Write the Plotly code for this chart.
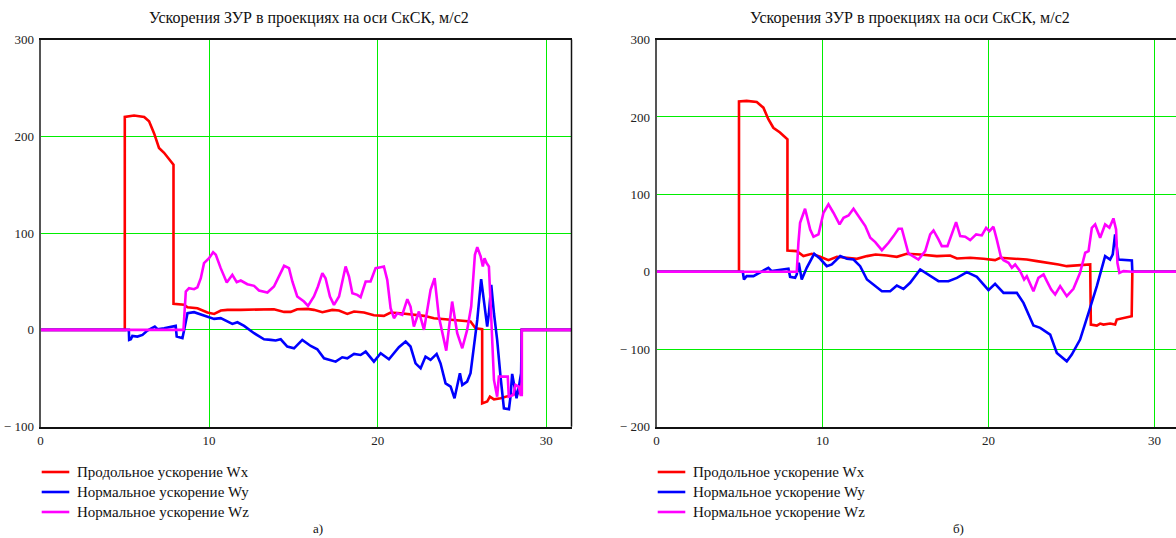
import plotly.graph_objects as go

W, H = 1176, 538

# ---- panel а): time, s and accelerations, m/s^2 ----
t_wx_a = [0, 5.0, 5.0, 5.55, 6.15, 6.44, 6.74, 7.03, 7.33, 7.63, 7.89, 7.89, 8.52, 8.72, 9.31, 9.9,
          10.3, 10.7, 11.09, 11.88, 13.06, 13.85, 14.45, 14.84, 15.23, 15.83, 16.22, 16.72, 17.31,
          17.7, 18.2, 18.6, 19.19, 19.78, 20.37, 20.77, 21.36, 21.95, 22.75, 23.34, 23.93, 24.52,
          25.12, 25.51, 25.81, 26.11, 26.2, 26.2, 26.5, 26.66, 26.9, 27.3, 27.88, 28.28, 28.55,
          28.55, 31.5]
wx_a = [0, 0, 220, 221.4, 220, 215.5, 203, 188, 183, 176.6, 170.7, 27, 26, 23.4, 22.4, 18,
        16.5, 20, 20.7, 20.7, 21.4, 21.4, 18.6, 18.6, 21.4, 21.7, 20.7, 18.3, 20.7,
        20, 16.5, 19, 18, 15.2, 14.5, 18, 17.2, 16.2, 14.5, 12, 11, 10.3,
        9.7, 8.6, 1.7, 0.7, 0.7, -75.9, -74, -69, -71.7, -70.7, -67.6, -65.5, -65,
        0, 0]

t_wy_a = [0, 5.24, 5.26, 5.36, 5.45, 5.75, 6.05, 6.34, 6.78, 6.94, 7.33, 7.92, 8.02, 8.08, 8.42,
          8.52, 8.72, 9.11, 9.51, 9.9, 10.3, 10.69, 11.09, 11.38, 11.68, 12.08, 12.67, 13.26,
          13.66, 13.95, 14.25, 14.64, 15.04, 15.53, 16.03, 16.42, 16.82, 17.21, 17.51, 17.9,
          18.2, 18.6, 18.99, 19.29, 19.78, 20.18, 20.67, 21.26, 21.66, 21.95, 22.25, 22.55,
          22.84, 23.14, 23.5, 23.73, 24.03, 24.33, 24.56, 24.88, 25.02, 25.31, 25.51, 25.71,
          25.91, 26.14, 26.3, 26.5, 26.6, 26.74, 26.9, 27.09, 27.29, 27.49, 27.79, 27.88,
          27.98, 28.08, 28.24, 28.38, 28.51, 28.55, 31.5]
wy_a = [0, 0, -10.3, -9.7, -6.2, -6.9, -5.2, -0.7, 3.4, 0.7, 1.7, 3.4, 4.1, -6.9, -8.6,
        0, 17.2, 18.3, 16.2, 13.8, 11.4, 12.1, 8.6, 6.2, 7.9, 4.1, -3.4, -9.7,
        -10.3, -11, -9.7, -17.2, -19, -10.3, -16.6, -20, -29.3, -31, -32.8, -28.3,
        -29.3, -24.8, -25.9, -22.4, -32.8, -24.1, -30.3, -17.9, -12.1, -17.2, -34.5, -39.7,
        -27.6, -31, -24.8, -34.5, -55.2, -58.6, -70.7, -44.8, -56.9, -53.4, -44.8, -17.2,
        10.3, 52.4, 31, 3.4, 17.2, 46.6, 17.2, -10.3, -48.3, -81, -82, -69,
        -45.5, -55, -70.7, -58.6, -44.8, 0, 0]

t_wz_a = [0, 8.48, 8.62, 8.81, 9.11, 9.31, 9.51, 9.7, 10.0, 10.24, 10.4, 10.69, 11.05, 11.38,
          11.64, 11.88, 12.27, 12.67, 12.96, 13.46, 13.85, 14.15, 14.45, 14.74, 14.94, 15.23,
          15.63, 15.87, 16.22, 16.46, 16.72, 16.91, 17.17, 17.41, 17.71, 18.1, 18.3, 18.5,
          18.79, 18.99, 19.29, 19.58, 19.88, 20.18, 20.37, 20.57, 20.77, 20.97, 21.16, 21.46,
          21.76, 21.95, 22.15, 22.45, 22.75, 23.14, 23.38, 23.63, 24.07, 24.42, 24.72, 25.02,
          25.31, 25.55, 25.77, 25.91, 26.11, 26.24, 26.34, 26.46, 26.6, 26.7, 26.9, 27.09,
          27.19, 27.72, 27.78, 28.04, 28.18, 28.38, 28.48, 28.55, 28.55, 31.5]
wz_a = [0, 0, 39.7, 43.1, 42, 44, 53.4, 69, 74, 80.3, 77.6, 63.8, 49, 56.9,
        49.3, 51, 47.2, 45.5, 40.7, 38.6, 44.8, 55.2, 66.2, 63.8, 50, 34.5,
        29.3, 24.8, 34.5, 44.8, 58.6, 53.4, 34.5, 25.9, 34.5, 65.5, 55.2, 37.9,
        36.2, 33.8, 50, 50, 63.8, 64.8, 65.5, 51.7, 22.4, 12.1, 17.2, 15.5,
        31.7, 24.1, 3.4, 19, 0, 41.4, 53.4, 13.8, -21.4, 29.3, -3.4, -19,
        0, 24.1, 77.6, 85.5, 75.9, 65.5, 74, 69, 65.5, 27.6, -51.7, -69,
        -48.3, -48.3, -69, -67.2, -56.9, -58.6, -67.2, -67.2, 0, 0]

# ---- panel б) ----
t_wx_b = [0, 4.97, 4.97, 5.43, 6.04, 6.44, 6.74, 7.04, 7.44, 7.85, 7.89, 7.89, 8.45, 8.85, 9.36,
          9.86, 10.36, 10.87, 11.47, 12.07, 12.68, 13.2, 13.88, 14.48, 15.08, 15.88, 16.89,
          17.69, 18.1, 18.9, 19.7, 20.4, 20.71, 21.51, 22.31, 22.92, 23.72, 24.22, 24.72,
          25.32, 26.13, 26.17, 26.53, 26.73, 26.93, 27.33, 27.63, 27.73, 28.13, 28.63, 28.67,
          31.3]
wx_b = [0, 0, 220, 220.7, 219.4, 212, 197, 186, 180, 171, 171, 27.6, 26.7, 20.3, 23.3,
        19.4, 15.1, 19.4, 18.1, 16.8, 20.3, 22.4, 21.1, 19.4, 23.3, 22.4, 20.3,
        21.1, 17.2, 18.1, 16.8, 15.1, 18.1, 17.2, 15.9, 13.8, 11.6, 9.5, 7.3,
        8.6, 9.5, -68.1, -69.4, -66.8, -68.1, -66.8, -68.1, -61.6, -59.5, -57.3, 0,
        0]

t_wy_b = [0, 5.2, 5.27, 5.43, 5.84, 6.14, 6.44, 6.74, 6.94, 7.44, 7.95, 8.05, 8.35, 8.45, 8.57,
          8.75, 9.05, 9.5, 9.86, 10.26, 10.56, 11.07, 11.47, 11.87, 12.27, 12.68, 13.08,
          13.58, 14.08, 14.48, 14.88, 15.28, 15.89, 16.39, 16.99, 17.59, 18.1, 18.7, 19.3,
          20.0, 20.4, 20.91, 21.71, 22.11, 22.71, 23.12, 23.72, 24.12, 24.72, 25.02, 25.52,
          26.03, 26.53, 27.03, 27.33, 27.49, 27.63, 27.83, 28.64, 28.67, 31.3]
wy_b = [0, 0, -9.9, -5.6, -5.6, -2.2, 2.2, 5.2, 0.9, 2.2, 3.9, -6.5, -7.8, -3.4, 11.6,
        -9.9, 5.2, 23.3, 16.8, 7.3, 9.5, 20.3, 16.8, 15.9, 7.3, -9.9, -16.4,
        -25, -25, -17.7, -22, -14.2, 3, -3.4, -12.1, -12.1, -7.8, -0.4, -6.5,
        -23.7, -15.5, -27.2, -27.2, -40.1, -69.4, -72.4, -81, -104.7, -115.5, -106.9, -87.5,
        -53, -18.5, 20.3, 15.9, 22.4, 48.3, 15.9, 14.7, 0, 0]

t_wz_b = [0, 8.45, 8.55, 8.65, 8.95, 9.26, 9.46, 9.76, 10.06, 10.36, 10.66, 11.03, 11.27, 11.57,
          11.87, 12.17, 12.58, 12.88, 13.18, 13.58, 13.98, 14.28, 14.58, 14.78, 14.98, 15.18,
          15.78, 16.19, 16.49, 16.69, 16.99, 17.19, 17.53, 17.79, 18.05, 18.3, 18.6, 18.9,
          19.26, 19.6, 19.86, 20.06, 20.3, 20.5, 20.75, 20.91, 21.21, 21.41, 21.61, 21.91,
          22.15, 22.31, 22.51, 22.71, 23.01, 23.32, 23.52, 23.78, 24.02, 24.32, 24.72, 25.12,
          25.52, 25.83, 26.03, 26.23, 26.43, 26.73, 27.03, 27.29, 27.53, 27.69, 27.77, 27.89,
          28.13, 28.68, 31.3]
wz_b = [0, 0, 37.5, 63.4, 81.5, 54.7, 45.3, 48.3, 76.3, 87.1, 76.3, 61.2, 69.8, 72.8,
        81.5, 72, 59.1, 44, 38.4, 28, 37.5, 46.1, 55.6, 55.6, 39.7, 23.7,
        15.9, 26.7, 48.3, 53.4, 41.8, 33.2, 33.2, 48.3, 64.2, 46.1, 45.3, 40.9,
        48.3, 47, 56.9, 52.6, 58.2, 41.8, 19.4, 15.1, 11.6, 5.2, 9.5, 0.9,
        -9.9, -5.6, -16.4, -25, -7.8, -3.4, -12.1, -22.8, -29.3, -18.5, -31.5, -22,
        -1.3, 24.6, 26.7, 56.9, 61.2, 44, 61.2, 56.9, 69, 54.7, 11.6, -1.3,
        0.9, 0, 0]

series_names = ["Продольное ускорение Wx", "Нормальное ускорение Wy", "Нормальное ускорение Wz"]
series_colors = ["#ff0000", "#0000ff", "#ff00ff"]
title_text = "Ускорения ЗУР в проекциях на оси СкСК, м/с2"
x_ticks = [0, 10, 20, 30]
y_ticks_a = [-100, 0, 100, 200, 300]
y_ticks_b = [-200, -100, 0, 100, 200, 300]
panel_labels = ["а)", "б)"]

FONT = "Liberation Serif, Times New Roman, serif"
INK = "#111111"


def px_x(p):
    return p / W


def px_y(p):
    return 1 - p / H


def tick_text(vals):
    return [("− " + str(-v)) if v < 0 else str(v) for v in vals]


fig = go.Figure()

panel_a = [(t_wx_a, wx_a), (t_wy_a, wy_a), (t_wz_a, wz_a)]
panel_b = [(t_wx_b, wx_b), (t_wy_b, wy_b), (t_wz_b, wz_b)]

for (tt, vv), name, col in zip(panel_a, series_names, series_colors):
    fig.add_trace(go.Scatter(x=tt, y=vv, mode="lines", name=name, showlegend=False,
                             line=dict(color=col, width=2.6), xaxis="x", yaxis="y"))
for (tt, vv), name, col in zip(panel_b, series_names, series_colors):
    fig.add_trace(go.Scatter(x=tt, y=vv, mode="lines", name=name, showlegend=False,
                             line=dict(color=col, width=2.6), xaxis="x2", yaxis="y2"))

GRID = "#00ee00"
tick_font = dict(family=FONT, size=13, color="#222222")
y_dom = [px_y(426.7), px_y(39.5)]


def x_axis(domain, rng, anchor):
    return dict(domain=domain, range=rng, anchor=anchor, tickvals=x_ticks,
                ticktext=[str(v) for v in x_ticks], showgrid=True, gridcolor=GRID,
                gridwidth=1, zeroline=False, showline=True, linecolor=INK, linewidth=2,
                mirror=True, ticks="", ticklabelstandoff=1, tickfont=tick_font,
                fixedrange=True)


def y_axis(rng, anchor, vals):
    return dict(domain=y_dom, range=rng, anchor=anchor, tickvals=vals,
                ticktext=tick_text(vals), showgrid=True, gridcolor=GRID, gridwidth=1,
                zeroline=False, showline=True, linecolor="#555555", linewidth=2,
                ticks="", ticklabelstandoff=2, tickfont=tick_font, fixedrange=True)


fig.update_layout(
    template="none",
    width=W, height=H,
    margin=dict(l=0, r=0, t=0, b=0),
    paper_bgcolor="white", plot_bgcolor="white",
    font=dict(family=FONT, color=INK),
    showlegend=False,
    xaxis=x_axis([px_x(40.5), px_x(571.5)], [0, 31.5], "y"),
    yaxis=y_axis([-100, 300], "x", y_ticks_a),
    xaxis2=x_axis([px_x(656.5), 1.0], [0, 31.3], "y2"),
    yaxis2=y_axis([-200, 300], "x2", y_ticks_b),
)

# right-hand frame edge of panel а)
fig.add_shape(type="line", xref="paper", yref="paper",
              x0=px_x(571.5), x1=px_x(571.5), y0=y_dom[0], y1=y_dom[1],
              line=dict(color=INK, width=1.5))

# titles
for cx in (309, 910):
    fig.add_annotation(text=title_text, xref="paper", yref="paper",
                       x=px_x(cx), y=px_y(18), xanchor="center", yanchor="middle",
                       showarrow=False, font=dict(family=FONT, size=16, color=INK))

# legends drawn beneath each panel
row_y = [472, 492, 512]
for left in (41.7, 657.7):
    for yy, name, col in zip(row_y, series_names, series_colors):
        fig.add_shape(type="line", xref="paper", yref="paper",
                      x0=px_x(left), x1=px_x(left + 27.6), y0=px_y(yy), y1=px_y(yy),
                      line=dict(color=col, width=2.6))
        fig.add_annotation(text=name, xref="paper", yref="paper",
                           x=px_x(left + 33.5), y=px_y(yy), xanchor="left",
                           yanchor="middle", showarrow=False,
                           font=dict(family=FONT, size=15, color=INK))

# panel captions at the lower edge
for cx, lab in zip((318, 958), panel_labels):
    fig.add_annotation(text=lab, xref="paper", yref="paper",
                       x=px_x(cx), y=px_y(537.5), xanchor="center", yanchor="bottom",
                       showarrow=False, font=dict(family=FONT, size=13, color=INK))

fig.write_html("out.html")
